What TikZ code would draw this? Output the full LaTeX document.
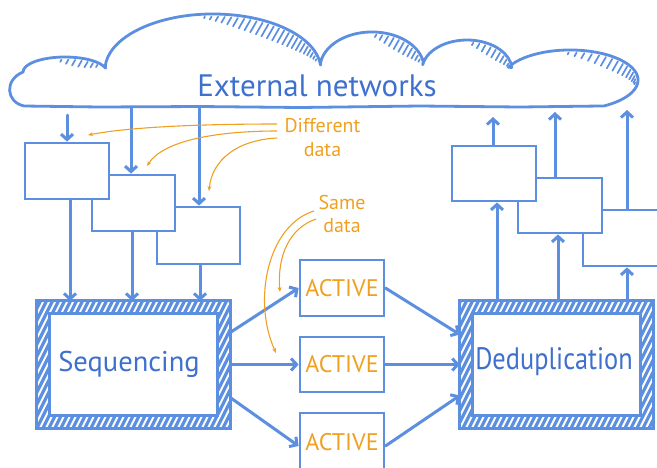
\documentclass[tikz,border=0pt]{standalone}
\usepackage{fontspec}
\newfontfamily\hand{PT Sans}
\newfontfamily\handnarrow[FakeStretch=0.85]{PT Sans}
\usetikzlibrary{arrows.meta}
\definecolor{lineblue}{RGB}{92,143,224}
\definecolor{inkblue}{RGB}{62,112,206}
\definecolor{marker}{RGB}{240,160,32}

\tikzset{
  plainbox/.style={draw=lineblue, line width=2.8pt, fill=white, inner sep=0pt},
  framebox/.style={inner sep=0pt, minimum width=193pt, minimum height=127pt},
  flow/.style={draw=lineblue, line width=3pt, line cap=round,
    -{Straight Barb[length=5.5pt,width=12pt]}},
  note/.style={draw=marker, line width=1.1pt, -{Stealth[length=5pt,width=4pt]}},
  hatch/.style={lineblue, line width=1.7pt, line cap=round},
  bigtext/.style={text=inkblue, font=\hand\fontsize{31}{33}\selectfont},
  seqstyle/.style={text=inkblue, font=\hand\fontsize{28.5}{33}\selectfont},
  dedupstyle/.style={text=inkblue, font=\handnarrow\fontsize{31}{33}\selectfont},
  activetext/.style={text=marker, font=\hand\fontsize{24}{26}\selectfont},
  notetext/.style={text=marker, align=center, inner sep=0pt,
    font=\hand\fontsize{20}{23.5}\selectfont},
}

% shading strokes inside one lump of the cloud
% #1,#2 centre  #3,#4 radii  #5,#6 angle range  #7 depth  #8 count
\newcommand\lumphatch[8]{%
  \foreach \k in {1,...,#8}{%
    \pgfmathsetmacro\t{#5+(#6-#5)*\k/(#8+1)}%
    \pgfmathsetmacro\f{sin(180*\k/(#8+1))}%
    \draw[hatch] ({#1+(#3-2.5)*cos(\t)},{#2+(#4-2.5)*sin(\t)})
      -- ++({-0.5*#7*\f},{0.87*#7*\f});
  }}

% thick striped border around a node
\newcommand\hatchframe[1]{%
  \fill[lineblue] (#1.north west) rectangle (#1.south east);
  \begin{scope}
    \clip (#1.north west) rectangle (#1.south east);
    \foreach \s in {-80,-74,...,680}
      \draw[white, line width=2pt] (\s,440) -- ++(70,-140);
  \end{scope}
  \fill[white] ([shift={(13,13)}]#1.north west) rectangle ([shift={(-13,-13)}]#1.south east);
  \draw[lineblue, line width=3pt] (#1.north west) rectangle (#1.south east);
  \draw[lineblue, line width=2.8pt] ([shift={(13,13)}]#1.north west)
    rectangle ([shift={(-13,-13)}]#1.south east);
}

\begin{document}
\begin{tikzpicture}[x=1pt,y=-1pt]
\useasboundingbox (0,0) rectangle (657,467);

% ---- cloud ----
\lumphatch{65}{72}{42}{15}{255}{335}{7}{7}
\lumphatch{213}{70}{108}{56}{262}{352}{14}{24}
\lumphatch{372}{68}{52}{36}{268}{352}{11}{11}
\lumphatch{467}{70}{45}{30}{270}{355}{9}{9}
\lumphatch{570}{80}{68}{30}{262}{372}{11}{15}
\draw[lineblue, line width=2.8pt, line join=round, line cap=round]
  (24,106) .. controls (6,102) and (4,80) .. (23,72)
  arc[start angle=180, end angle=345, x radius=42, y radius=15]
  -- (105.4,65.1)
  arc[start angle=185, end angle=355, x radius=108, y radius=56]
  -- (320.8,61.7)
  arc[start angle=190, end angle=350, x radius=52, y radius=36]
  -- (422.7,64.8)
  arc[start angle=190, end angle=355, x radius=45, y radius=30]
  -- (508.4,67.3)
  arc[start angle=205, end angle=420, x radius=68, y radius=30]
  -- (520,107) -- (420,106) -- (300,107.5) -- (200,106.5) -- (100,107) -- (24,106);
\node[bigtext] (cloudlabel) at (317,86) {External networks};

% ---- input boxes ----
\node[plainbox, minimum width=83pt, minimum height=57pt] (C) at (198.5,235.5) {};
\node[plainbox, minimum width=83pt, minimum height=56pt] (B) at (133.5,203) {};
\node[plainbox, minimum width=84pt, minimum height=56pt] (A) at (67,171) {};

% ---- output boxes ----
\node[plainbox, minimum width=87pt, minimum height=56pt] (F) at (626.5,238) {};
\node[plainbox, minimum width=84pt, minimum height=55pt] (E) at (560,205.5) {};
\node[plainbox, minimum width=84pt, minimum height=55pt] (D) at (494,173.5) {};

% ---- main stages ----
\node[framebox] (Seq) at (133.5,364.5) {};
\hatchframe{Seq}
\node[seqstyle] (seqtext) at (129,364) {Sequencing};
\node[framebox] (Dedup) at (556.5,364.5) {};
\hatchframe{Dedup}
\node[dedupstyle] (deduptext) at (554,362) {Deduplication};

\node[plainbox, minimum width=84pt, minimum height=56pt, activetext] (Act1) at (342,288) {ACTIVE};
\node[plainbox, minimum width=84pt, minimum height=55pt, activetext] (Act2) at (342,364.5) {ACTIVE};
\node[plainbox, minimum width=84pt, minimum height=60pt, activetext] (Act3) at (342,443) {\raisebox{3pt}{ACTIVE}};

% ---- connectors: cloud to input boxes ----
\coordinate (ia) at (67,115);
\coordinate (ib) at (131,107);
\coordinate (ic) at (199,107);
\draw[flow] (ia) -- (ia |- A.north);
\draw[flow] (ib) -- (ib |- B.north);
\draw[flow] (ic) -- (ic |- C.north);

% ---- input boxes to sequencing ----
\coordinate (sa) at (70,301);
\coordinate (sb) at (132,301);
\coordinate (sc) at (200,301);
\draw[flow] (sa |- A.south) -- (sa);
\draw[flow] (sb |- B.south) -- (sb);
\draw[flow] (sc |- C.south) -- (sc);

% ---- sequencing to active nodes ----
\draw[flow] ([yshift=32pt]Seq.east) -- (Act1.west);
\draw[flow] (Seq.east) -- (Act2.west);
\draw[flow] ([yshift=-33pt]Seq.east) -- ([yshift=-3pt]Act3.west);

% ---- active nodes to deduplication ----
\draw[flow] (Act1.east) -- ([yshift=30pt]Dedup.west);
\draw[flow] (Act2.east) -- (Dedup.west);
\draw[flow] ([yshift=-3pt]Act3.east) -- ([yshift=-31pt]Dedup.west);

% ---- deduplication to output boxes ----
\coordinate (da) at (497,301);
\coordinate (db) at (558,301);
\coordinate (dc) at (627,301);
\draw[flow] (da) -- (da |- D.south);
\draw[flow] (db) -- (db |- E.south);
\draw[flow] (dc) -- (dc |- F.south);

% ---- output boxes to cloud ----
\coordinate (ua) at (493,117);
\coordinate (ub) at (555,112);
\coordinate (uc) at (627,110);
\draw[flow] (ua |- D.north) -- (ua);
\draw[flow] (ub |- E.north) -- (ub);
\draw[flow] (uc |- F.north) -- (uc);

% ---- annotations ----
\node[notetext] (diff) at (322.5,137.5) {Different\\data};
\coordinate (d1) at (277,124);
\coordinate (d2) at (277,131);
\coordinate (d3) at (277,138);
\coordinate (t1) at (88,135);
\coordinate (t2) at (147,166);
\coordinate (t3) at (209,191);
\draw[note] (d1) .. controls (200,124) and (130,127) .. (t1);
\draw[note] (d2) .. controls (215,131) and (163,141) .. (t2);
\draw[note] (d3) .. controls (237,140) and (212,160) .. (t3);

\node[notetext] (same) at (342,214) {Same\\data};
\coordinate (s1) at (316,219);
\coordinate (s2) at (314,211);
\coordinate (e1) at (280,292);
\coordinate (e2) at (276,353);
\draw[note] (s1) .. controls (290,228) and (277,255) .. (e1);
\draw[note] (s2) .. controls (268,225) and (252,300) .. (e2);

\end{tikzpicture}
\end{document}
